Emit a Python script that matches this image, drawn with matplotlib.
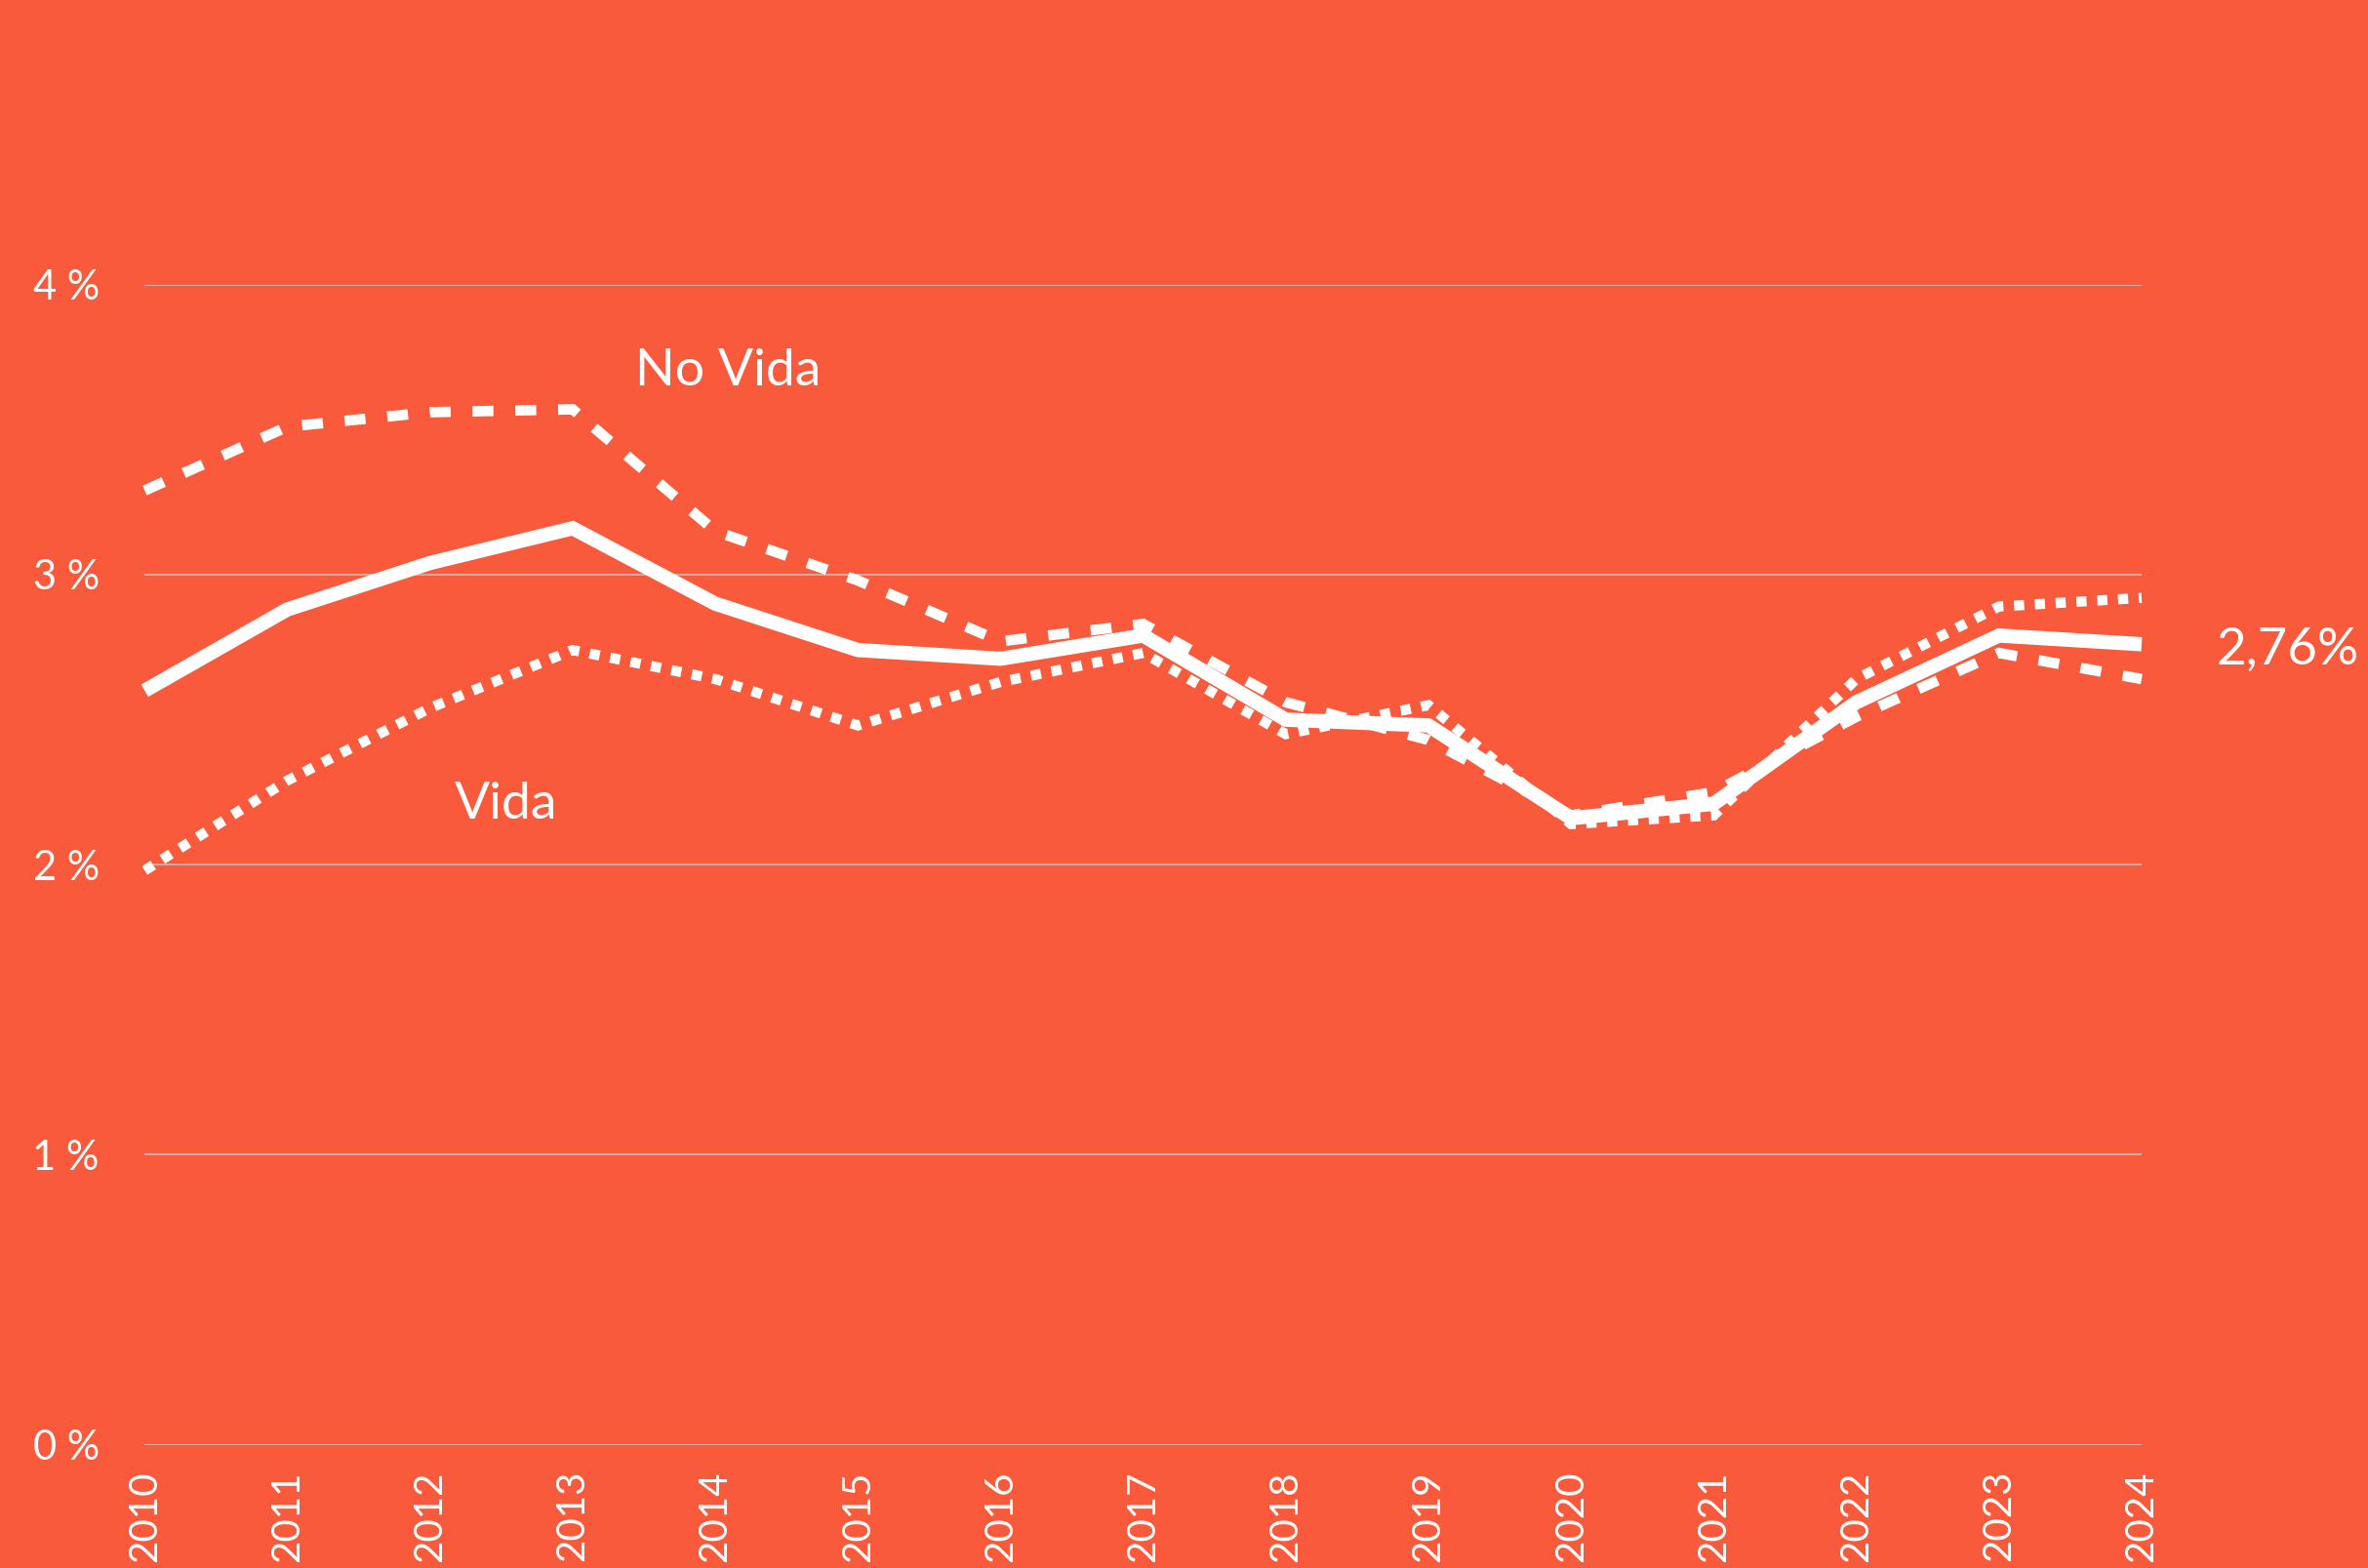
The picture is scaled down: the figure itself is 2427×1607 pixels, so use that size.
import matplotlib
matplotlib.use("Agg")
import matplotlib.pyplot as plt

# yearly rates (%) - total, non-life and life
years = list(range(2010, 2025))
total = [2.60, 2.88, 3.04, 3.16, 2.90, 2.74, 2.71, 2.79, 2.50, 2.48, 2.16, 2.21, 2.56, 2.79, 2.76]
no_vida = [3.29, 3.51, 3.56, 3.57, 3.15, 2.98, 2.77, 2.83, 2.56, 2.43, 2.17, 2.25, 2.51, 2.73, 2.64]
vida = [1.98, 2.29, 2.54, 2.74, 2.64, 2.48, 2.63, 2.73, 2.45, 2.55, 2.14, 2.17, 2.64, 2.89, 2.92]
y_ticks = [0, 1, 2, 3, 4]
y_labels = ["0 %", "1 %", "2 %", "3 %", "4 %"]

bg = "#FA5A3C"
plt.rcParams["font.family"] = ["Lato", "DejaVu Sans"]

fig = plt.figure(figsize=(24.27, 16.07), dpi=100, facecolor=bg)
ax = fig.add_axes([0.0611, 0.0786, 0.8433, 0.7399], facecolor=bg)

ax.plot(years, no_vida, color="white", lw=7.7, linestyle=(0, (2.0, 2.1)),
        dash_capstyle="butt", dash_joinstyle="miter", clip_on=False, zorder=3)
ax.plot(years, vida, color="white", lw=7.5, linestyle=(0, (1.0, 1.05)),
        dash_capstyle="butt", dash_joinstyle="miter", clip_on=False, zorder=3)
ax.plot(years, total, color="white", lw=10.5, solid_joinstyle="miter",
        solid_capstyle="butt", clip_on=False, zorder=4)

ax.set_xlim(2010, 2024)
ax.set_ylim(0, 4)
ax.set_yticks(y_ticks)
ax.set_yticklabels(y_labels)
ax.set_xticks(years)
ax.set_xticklabels([str(y) for y in years], rotation=90, va="top", ha="center")
ax.tick_params(axis="y", length=0, pad=33.5, labelsize=30, labelcolor="white")
ax.tick_params(axis="x", length=0, pad=19, labelsize=29, labelcolor="white")

ax.grid(axis="y", color="#BDBDBD", lw=1.2)
ax.grid(axis="x", visible=False)
for s in ax.spines.values():
    s.set_visible(False)

# series labels
ax.text(2013.44, 3.652, "No Vida", color="white", fontsize=38.5, ha="left", va="baseline")
ax.text(2012.17, 2.159, "Vida", color="white", fontsize=38.5, ha="left", va="baseline")
ax.annotate(f"{total[-1]:.2f}%".replace(".", ","), xy=(years[-1], total[-1]),
            xytext=(55.4, -14.7), textcoords="offset points", color="white",
            fontsize=38, ha="left", va="baseline", annotation_clip=False)

fig.savefig("out.png", dpi=100, facecolor=bg)
